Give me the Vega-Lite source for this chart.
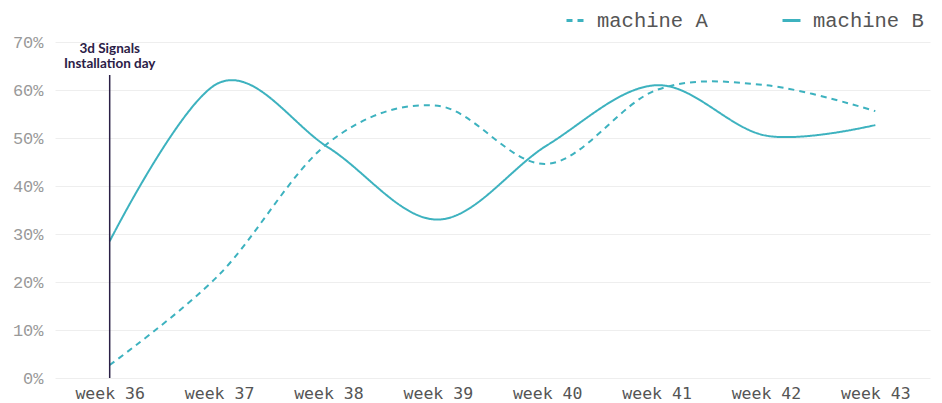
{
  "$schema": "https://vega.github.io/schema/vega-lite/v6.json",
  "width": 875,
  "height": 336,
  "autosize": {"type": "none"},
  "padding": {"left": 55, "top": 42, "right": 12, "bottom": 25},
  "background": "white",
  "config": {
    "view": {"stroke": null},
    "axis": {"gridColor": "#eeeeee", "domain": false, "ticks": false}
  },
  "layer": [
    {
      "data": {
        "values": [
          {"week": "week 36", "machine": "machine A", "value": 0.027},
          {"week": "week 37", "machine": "machine A", "value": 0.215},
          {"week": "week 38", "machine": "machine A", "value": 0.49},
          {"week": "week 39", "machine": "machine A", "value": 0.567},
          {"week": "week 40", "machine": "machine A", "value": 0.446},
          {"week": "week 41", "machine": "machine A", "value": 0.60},
          {"week": "week 42", "machine": "machine A", "value": 0.61},
          {"week": "week 43", "machine": "machine A", "value": 0.556},
          {"week": "week 36", "machine": "machine B", "value": 0.285},
          {"week": "week 37", "machine": "machine B", "value": 0.615},
          {"week": "week 38", "machine": "machine B", "value": 0.48},
          {"week": "week 39", "machine": "machine B", "value": 0.33},
          {"week": "week 40", "machine": "machine B", "value": 0.485},
          {"week": "week 41", "machine": "machine B", "value": 0.61},
          {"week": "week 42", "machine": "machine B", "value": 0.505},
          {"week": "week 43", "machine": "machine B", "value": 0.527}
        ]
      },
      "mark": {"type": "line", "interpolate": "cardinal", "strokeWidth": 2, "color": "#3db2bf"},
      "encoding": {
        "x": {
          "field": "week",
          "type": "ordinal",
          "scale": {"type": "point", "padding": 0.5},
          "axis": {
            "title": null,
            "labelAngle": 0,
            "labelAlign": "center",
            "labelBaseline": "top",
            "labelFont": "DejaVu Sans Mono",
            "labelFontSize": 16.5,
            "labelColor": "#555555",
            "labelPadding": 7,
            "grid": false
          }
        },
        "y": {
          "field": "value",
          "type": "quantitative",
          "scale": {"domain": [0, 0.7], "nice": false},
          "axis": {
            "title": null,
            "format": ".0%",
            "values": [0, 0.1, 0.2, 0.3, 0.4, 0.5, 0.6, 0.7],
            "labelFont": "Liberation Mono",
            "labelFontSize": 17,
            "labelColor": "#999999",
            "labelPadding": 12
          }
        },
        "strokeDash": {
          "field": "machine",
          "type": "nominal",
          "scale": {"domain": ["machine A", "machine B"], "range": [[6, 5], [1, 0]]},
          "legend": {
            "title": null,
            "orient": "none",
            "direction": "horizontal",
            "legendX": 510,
            "legendY": -32,
            "symbolType": "stroke",
            "symbolSize": 324,
            "symbolStrokeWidth": 3,
            "symbolStrokeColor": "#3db2bf",
            "labelFont": "Liberation Mono",
            "labelFontSize": 20.5,
            "labelColor": "#555555",
            "labelOffset": 11,
            "columnPadding": 68
          }
        }
      }
    },
    {
      "data": {"values": [{"event": "installation"}]},
      "mark": {"type": "rule", "color": "#2b2046", "strokeWidth": 1.5},
      "encoding": {
        "x": {"datum": "week 36", "type": "ordinal"},
        "y": {"datum": 0},
        "y2": {"datum": 0.631}
      }
    },
    {
      "data": {"values": [{"event": "installation"}]},
      "mark": {
        "type": "text",
        "text": ["3d Signals", "Installation day"],
        "font": "Lato",
        "fontWeight": "bold",
        "fontSize": 13.5,
        "lineHeight": 15,
        "color": "#2b2046",
        "baseline": "top",
        "align": "center"
      },
      "encoding": {
        "x": {"datum": "week 36", "type": "ordinal"},
        "y": {"datum": 0.7}
      }
    }
  ]
}
